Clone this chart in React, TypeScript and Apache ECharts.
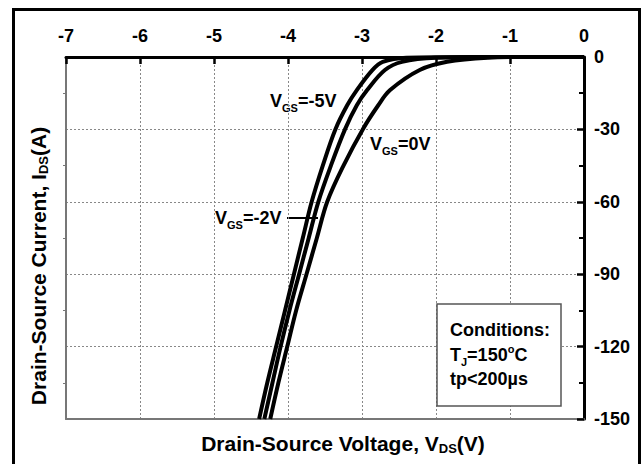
import React, { useEffect, useRef } from "react";
import * as echarts from "echarts";

const xTicks = [-7, -6, -5, -4, -3, -2, -1, 0];
const yTicks = [0, -30, -60, -90, -120, -150];

// V_DS (V), I_DS (A)
const vgsNeg5: [number, number][] = [
  [0, 0], [-1.5, 0], [-2.4, -0.3], [-2.72, -2], [-2.86, -5.4], [-3.07, -13.7], [-3.2, -20],
  [-3.36, -30], [-3.53, -45], [-3.68, -60], [-3.8, -75], [-3.92, -90], [-4.04, -105],
  [-4.16, -120], [-4.28, -135], [-4.39, -150],
];
const vgsNeg2: [number, number][] = [
  [0, 0], [-1.2, 0], [-2.0, -0.3], [-2.46, -2], [-2.69, -5.4], [-2.93, -13.7], [-3.07, -20],
  [-3.23, -30], [-3.42, -45], [-3.59, -60], [-3.72, -75], [-3.85, -90], [-3.98, -105],
  [-4.1, -120], [-4.21, -135], [-4.32, -150],
];
const vgs0: [number, number][] = [
  [0, 0], [-0.8, 0], [-1.3, -0.3], [-1.85, -2], [-2.22, -5.4], [-2.62, -13.7], [-2.78, -20],
  [-2.99, -30], [-3.25, -45], [-3.47, -60], [-3.61, -75], [-3.75, -90], [-3.89, -105],
  [-4.01, -120], [-4.13, -135], [-4.24, -150],
];

const FONT = "'Liberation Sans', Arial, sans-serif";

const rich = (size: number) => ({
  m: { fontSize: size, fontWeight: "bold", fontFamily: FONT, color: "#000", lineHeight: 24, verticalAlign: "middle" },
  s: { fontSize: Math.round(size * 0.62), fontWeight: "bold", fontFamily: FONT, color: "#000", lineHeight: 12, verticalAlign: "bottom" },
  u: { fontSize: Math.round(size * 0.62), fontWeight: "bold", fontFamily: FONT, color: "#000", lineHeight: 12, verticalAlign: "top" },
});

export default function App() {
  const ref = useRef<HTMLDivElement>(null);
  useEffect(() => {
    if (!ref.current) return;
    const chart = echarts.init(ref.current, null, { renderer: "svg" });
    const lineSeries = (name: string, data: [number, number][]) => ({
      name,
      type: "line",
      data,
      smooth: 0.35,
      symbol: "none",
      lineStyle: { color: "#000", width: 4 },
      xAxisIndex: 0,
      yAxisIndex: 0,
    });
    chart.setOption({
      animation: false,
      backgroundColor: "#fff",
      grid: { left: 66, right: 60, top: 57, bottom: 45 },
      xAxis: [
        {
          type: "value",
          position: "top",
          min: -7,
          max: 0,
          interval: 1,
          axisLine: { show: true, onZero: false, lineStyle: { color: "#000", width: 3 } },
          axisTick: { show: true, inside: true, length: 7, lineStyle: { color: "#000", width: 2.5 } },
          axisLabel: {
            margin: 12,
            fontSize: 18,
            fontWeight: "bold",
            fontFamily: FONT,
            color: "#000",
            formatter: (v: number) => (xTicks.includes(v) ? String(v) : ""),
          },
          splitLine: { show: true, lineStyle: { color: "#888", width: 1, type: [2, 2] } },
        },
        {
          type: "value",
          position: "bottom",
          min: -7,
          max: 0,
          interval: 1,
          axisLine: { show: true, onZero: false, lineStyle: { color: "#777", width: 2 } },
          axisTick: { show: false },
          axisLabel: { show: false },
          splitLine: { show: false },
        },
      ],
      yAxis: [
        {
          type: "value",
          position: "right",
          min: -150,
          max: 0,
          interval: 30,
          axisLine: { show: true, onZero: false, lineStyle: { color: "#000", width: 3 } },
          axisTick: { show: true, inside: true, length: 7, lineStyle: { color: "#000", width: 2.5 } },
          minorTick: { show: true, splitNumber: 2, length: 5, lineStyle: { color: "#000", width: 2 } },
          axisLabel: {
            margin: 10,
            fontSize: 18,
            fontWeight: "bold",
            fontFamily: FONT,
            color: "#000",
            formatter: (v: number) => (yTicks.includes(v) ? String(v) : ""),
          },
          splitLine: { show: true, lineStyle: { color: "#888", width: 1, type: [2, 2] } },
        },
        {
          type: "value",
          position: "left",
          min: -150,
          max: 0,
          interval: 30,
          axisLine: { show: true, onZero: false, lineStyle: { color: "#777", width: 2 } },
          axisTick: { show: false },
          minorTick: { show: true, splitNumber: 2, length: 3, lineStyle: { color: "#777", width: 1 } },
          axisLabel: { show: false },
          splitLine: { show: false },
        },
      ],
      series: [
        lineSeries("VGS=-5V", vgsNeg5),
        lineSeries("VGS=-2V", vgsNeg2),
        lineSeries("VGS=0V", vgs0),
      ],
      graphic: [
        {
          type: "rect",
          shape: { x: 13.5, y: 9.5, width: 626, height: 470 },
          style: { fill: "none", stroke: "#000", lineWidth: 3 },
          silent: true,
        },
        {
          type: "text",
          x: 270,
          y: 101,
          style: { text: "{m|V}{s|GS}{m|=-5V}", rich: rich(18), verticalAlign: "middle" },
        },
        {
          type: "text",
          x: 370,
          y: 144,
          style: { text: "{m|V}{s|GS}{m|=0V}", rich: rich(18), verticalAlign: "middle" },
        },
        {
          type: "text",
          x: 215,
          y: 218,
          style: { text: "{m|V}{s|GS}{m|=-2V}", rich: rich(18), verticalAlign: "middle" },
        },
        {
          type: "line",
          shape: { x1: 287, y1: 218, x2: 318, y2: 218 },
          style: { stroke: "#000", lineWidth: 2 },
        },
        {
          type: "rect",
          shape: { x: 437, y: 304, width: 124, height: 102 },
          style: { fill: "#fff", stroke: "#555", lineWidth: 1.5 },
          z: 10,
        },
        {
          type: "text",
          x: 450,
          y: 330,
          z: 11,
          style: { text: "{m|Conditions:}", rich: rich(18), verticalAlign: "middle" },
        },
        {
          type: "text",
          x: 450,
          y: 355,
          z: 11,
          style: { text: "{m|T}{s|J}{m|=150}{u|o}{m|C}", rich: rich(18), verticalAlign: "middle" },
        },
        {
          type: "text",
          x: 450,
          y: 379,
          z: 11,
          style: { text: "{m|tp<200µs}", rich: rich(18), verticalAlign: "middle" },
        },
        {
          type: "text",
          x: 343,
          y: 443,
          style: { text: "{m|Drain-Source Voltage, V}{s|DS}{m|(V)}", rich: rich(21), align: "center", verticalAlign: "middle" },
        },
        {
          type: "text",
          x: 38,
          y: 266,
          rotation: Math.PI / 2,
          style: { text: "{m|Drain-Source Current, I}{s|DS}{m|(A)}", rich: rich(21), align: "center", verticalAlign: "middle" },
        },
      ],
    });
    return () => chart.dispose();
  }, []);
  return <div ref={ref} style={{ width: 644, height: 464, position: "absolute", left: 0, top: 0 }} />;
}
